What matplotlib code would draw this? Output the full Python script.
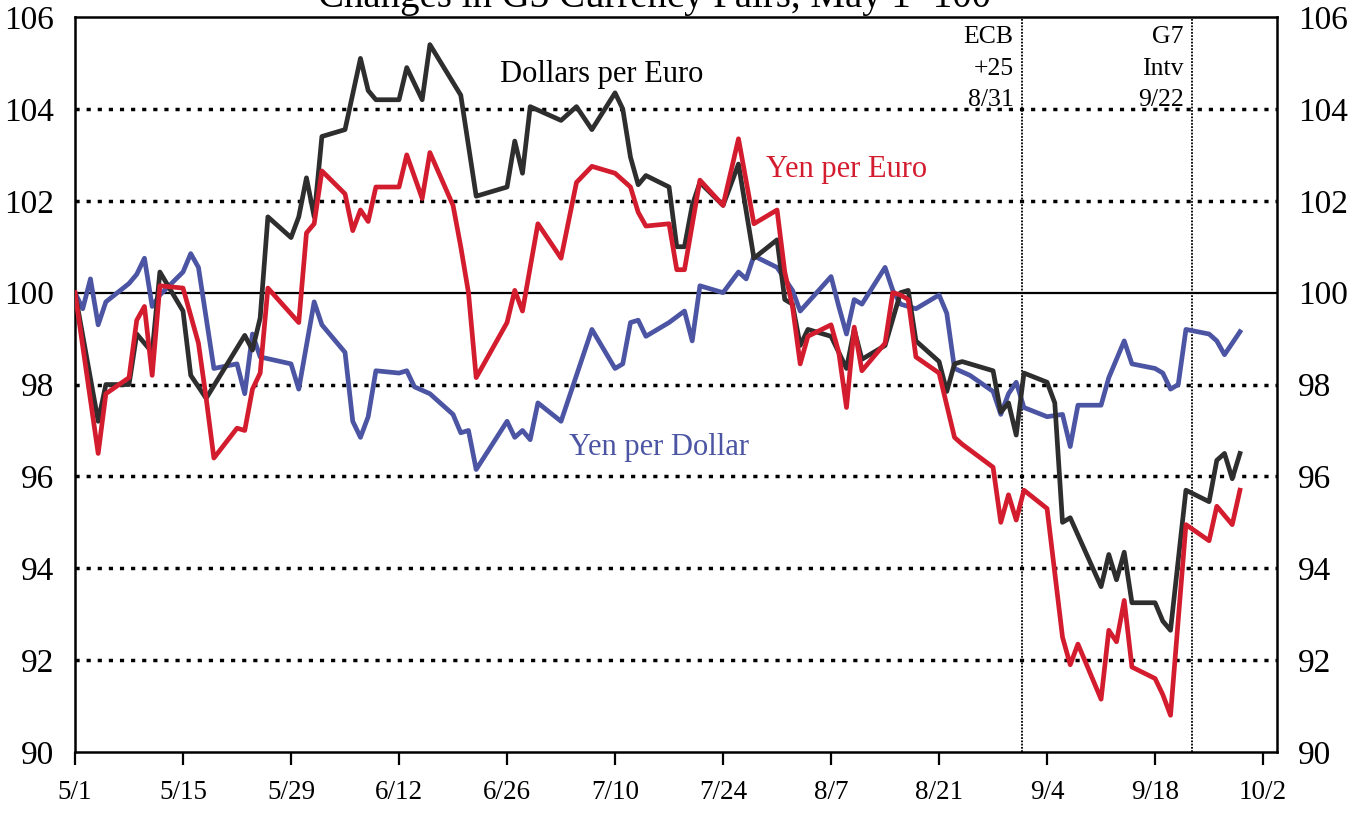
import pandas as pd
import matplotlib
matplotlib.use("Agg")
import matplotlib.pyplot as plt

plt.rcParams['font.family'] = ['Liberation Serif', 'DejaVu Serif']

# Dollars per Euro (May 1 = 100)
usd_eur_dates = ["5/1", "5/4", "5/5", "5/8", "5/9", "5/11", "5/12", "5/15", "5/16", "5/18",
                 "5/23", "5/24", "5/25", "5/26", "5/29", "5/30", "5/31", "6/1", "6/2", "6/5",
                 "6/7", "6/8", "6/9", "6/12", "6/13", "6/15", "6/16", "6/20", "6/22", "6/26",
                 "6/27", "6/28", "6/29", "7/3", "7/5", "7/7", "7/10", "7/11", "7/12", "7/13",
                 "7/14", "7/17", "7/18", "7/19", "7/20", "7/21", "7/24", "7/26", "7/28", "7/31",
                 "8/1", "8/2", "8/3", "8/4", "8/7", "8/9", "8/10", "8/11", "8/14", "8/16",
                 "8/17", "8/18", "8/21", "8/22", "8/23", "8/24", "8/28", "8/29", "8/30", "8/31",
                 "9/1", "9/4", "9/5", "9/6", "9/7", "9/11", "9/12", "9/13", "9/14", "9/15",
                 "9/18", "9/19", "9/20", "9/22", "9/25", "9/26", "9/27", "9/28", "9/29"]
usd_eur = [100.0, 97.2, 98.0, 98.0, 99.1, 98.7, 100.45, 99.6, 98.2, 97.7,
           99.07, 98.75, 99.45, 101.65, 101.2, 101.65, 102.5, 101.65, 103.4, 103.55,
           105.1, 104.4, 104.2, 104.2, 104.9, 104.2, 105.4, 104.3, 102.1, 102.3,
           103.3, 102.6, 104.05, 103.75, 104.05, 103.55, 104.35, 104.0, 102.95, 102.35,
           102.55, 102.3, 101.0, 101.0, 101.9, 102.4, 101.9, 102.8, 100.75, 101.15,
           99.85, 99.75, 98.85, 99.2, 99.05, 98.35, 99.2, 98.55, 98.85, 100.0,
           100.05, 98.95, 98.5, 97.85, 98.45, 98.5, 98.3, 97.4, 97.6, 96.9,
           98.25, 98.05, 97.6, 95.0, 95.1, 93.6, 94.3, 93.75, 94.35, 93.25,
           93.25, 92.85, 92.65, 95.7, 95.45, 96.35, 96.5, 95.95, 96.5]

# Yen per Euro
jpy_eur_dates = ["5/1", "5/4", "5/5", "5/8", "5/9", "5/10", "5/11", "5/12", "5/15", "5/17",
                 "5/18", "5/19", "5/22", "5/23", "5/24", "5/25", "5/26", "5/30", "5/31", "6/1",
                 "6/2", "6/5", "6/6", "6/7", "6/8", "6/9", "6/12", "6/13", "6/15", "6/16",
                 "6/19", "6/20", "6/21", "6/22", "6/26", "6/27", "6/28", "6/30", "7/3", "7/5",
                 "7/7", "7/10", "7/12", "7/13", "7/14", "7/17", "7/18", "7/19", "7/21", "7/24",
                 "7/26", "7/28", "7/31", "8/1", "8/2", "8/3", "8/4", "8/7", "8/8", "8/9",
                 "8/10", "8/11", "8/14", "8/15", "8/16", "8/17", "8/18", "8/21", "8/23", "8/24",
                 "8/28", "8/29", "8/30", "8/31", "9/1", "9/4", "9/6", "9/7", "9/8", "9/11",
                 "9/12", "9/13", "9/14", "9/15", "9/18", "9/19", "9/20", "9/22", "9/25", "9/26",
                 "9/28", "9/29"]
jpy_eur = [100.0, 96.5, 97.8, 98.15, 99.4, 99.7, 98.2, 100.15, 100.1, 98.9,
           97.7, 96.4, 97.05, 97.0, 97.9, 98.25, 100.1, 99.35, 101.3, 101.5,
           102.65, 102.15, 101.35, 101.8, 101.55, 102.3, 102.3, 103.0, 102.05, 103.05,
           101.9, 101.0, 100.0, 98.15, 99.35, 100.05, 99.6, 101.5, 100.75, 102.4,
           102.75, 102.6, 102.3, 101.75, 101.45, 101.5, 100.5, 100.5, 102.45, 101.9,
           103.35, 101.5, 101.8, 100.45, 99.7, 98.45, 99.05, 99.3, 98.7, 97.5,
           99.25, 98.3, 98.9, 100.0, 99.95, 99.85, 98.6, 98.25, 96.85, 96.7,
           96.2, 95.0, 95.6, 95.05, 95.7, 95.3, 92.5, 91.9, 92.35, 91.15,
           92.65, 92.4, 93.3, 91.85, 91.6, 91.25, 90.8, 94.95, 94.6, 95.35,
           94.95, 95.7]

# Yen per Dollar
jpy_usd_dates = ["5/1", "5/2", "5/3", "5/4", "5/5", "5/8", "5/9", "5/10", "5/11", "5/12",
                 "5/15", "5/16", "5/17", "5/19", "5/22", "5/23", "5/24", "5/25", "5/29", "5/30",
                 "6/1", "6/2", "6/5", "6/6", "6/7", "6/8", "6/9", "6/12", "6/13", "6/14",
                 "6/16", "6/19", "6/20", "6/21", "6/22", "6/26", "6/27", "6/28", "6/29", "6/30",
                 "7/3", "7/5", "7/7", "7/10", "7/11", "7/12", "7/13", "7/14", "7/17", "7/19",
                 "7/20", "7/21", "7/24", "7/26", "7/27", "7/28", "7/31", "8/2", "8/3", "8/7",
                 "8/8", "8/9", "8/10", "8/11", "8/14", "8/15", "8/16", "8/18", "8/21", "8/22",
                 "8/23", "8/25", "8/28", "8/29", "8/30", "8/31", "9/1", "9/4", "9/6", "9/7",
                 "9/8", "9/11", "9/12", "9/14", "9/15", "9/18", "9/19", "9/20", "9/21", "9/22",
                 "9/25", "9/26", "9/27", "9/29"]
jpy_usd = [100.0, 99.65, 100.3, 99.3, 99.8, 100.2, 100.4, 100.75, 99.7, 99.95,
           100.45, 100.85, 100.55, 98.35, 98.45, 97.8, 99.1, 98.6, 98.45, 97.9,
           99.8, 99.3, 98.7, 97.2, 96.85, 97.3, 98.3, 98.25, 98.3, 97.95,
           97.8, 97.35, 96.95, 97.0, 96.15, 97.2, 96.85, 97.0, 96.8, 97.6,
           97.2, 98.2, 99.2, 98.35, 98.45, 99.35, 99.4, 99.05, 99.35, 99.6,
           98.95, 100.15, 100.0, 100.45, 100.3, 100.8, 100.55, 100.05, 99.6, 100.35,
           99.7, 99.1, 99.85, 99.75, 100.55, 100.05, 99.75, 99.65, 99.95, 99.55,
           98.35, 98.2, 97.85, 97.35, 97.8, 98.05, 97.5, 97.3, 97.35, 96.65,
           97.55, 97.55, 98.15, 98.95, 98.45, 98.35, 98.25, 97.9, 98.0, 99.2,
           99.1, 98.95, 98.65, 99.15]

tick_dates = ["5/1", "5/15", "5/29", "6/12", "6/26", "7/10", "7/24", "8/7", "8/21", "9/4", "9/18", "10/2"]
grid_levels = [92, 94, 96, 98, 102, 104]
events = [("ECB\n+25\n8/31", "8/31"), ("G7\nIntv\n9/22", "9/22")]


def to_dt(days):
    return pd.to_datetime(["2000/" + d for d in days], format="%Y/%m/%d")


fig = plt.figure(figsize=(13.64, 8.16), dpi=100)
ax = fig.add_axes([0.055, 0.0784, 0.8812, 0.9007])

c_black = "#2e2e2e"
c_red = "#d41c2f"
c_blue = "#4c55a3"

# reference lines
for g in grid_levels:
    ax.axhline(g, color="black", lw=2.5, linestyle=(0, (1.2, 2.0)), zorder=1)
ax.axhline(100, color="black", lw=1.6, zorder=1)

for label, d in events:
    xe = to_dt([d])[0] + pd.Timedelta(hours=18)
    ax.axvline(xe, color="black", lw=1.3, linestyle=(0, (1, 0.8)), zorder=1)
    ax.annotate(label, xy=(xe, 105.8), xytext=(-6, 0), textcoords="offset points",
                ha="right", va="top", fontsize=18.5, linespacing=1.55, multialignment="right")

ax.plot(to_dt(usd_eur_dates), usd_eur, color=c_black, lw=3.4, zorder=3)
ax.plot(to_dt(jpy_usd_dates), jpy_usd, color=c_blue, lw=3.4, zorder=2)
ax.plot(to_dt(jpy_eur_dates), jpy_eur, color=c_red, lw=3.4, zorder=4)

ax.text(pd.Timestamp("2000-07-08 05:00"), 104.75, "Dollars per Euro", color="black",
        fontsize=22, ha="center", va="center")
ax.text(pd.Timestamp("2000-08-09"), 102.68, "Yen per Euro", color=c_red,
        fontsize=22, ha="center", va="center")
ax.text(pd.Timestamp("2000-07-15 18:00"), 96.64, "Yen per Dollar", color=c_blue,
        fontsize=22, ha="center", va="center")

ax.set_ylim(90, 106)
ax.set_yticks([90, 92, 94, 96, 98, 100, 102, 104, 106])
ax.set_xlim(pd.Timestamp("2000-05-01"), pd.Timestamp("2000-05-01") + pd.Timedelta(days=155.8))
ticks = to_dt(tick_dates)
ax.set_xticks(ticks)
ax.set_xticklabels(tick_dates)

ax.tick_params(axis="y", length=0, pad=15, labelsize=24, labelleft=True, labelright=True)
ax.tick_params(axis="x", direction="out", length=9, width=1.6, pad=11, labelsize=19.5)

for s in ax.spines.values():
    s.set_linewidth(1.8)
    s.set_color("black")

# the title sits partly above the page edge, as in the scanned original
fig.text(0.48, 0.9914, "Changes in G3 Currency Pairs, May 1=100", ha="center",
         va="baseline", fontsize=28)

fig.savefig("out.png", dpi=100)
